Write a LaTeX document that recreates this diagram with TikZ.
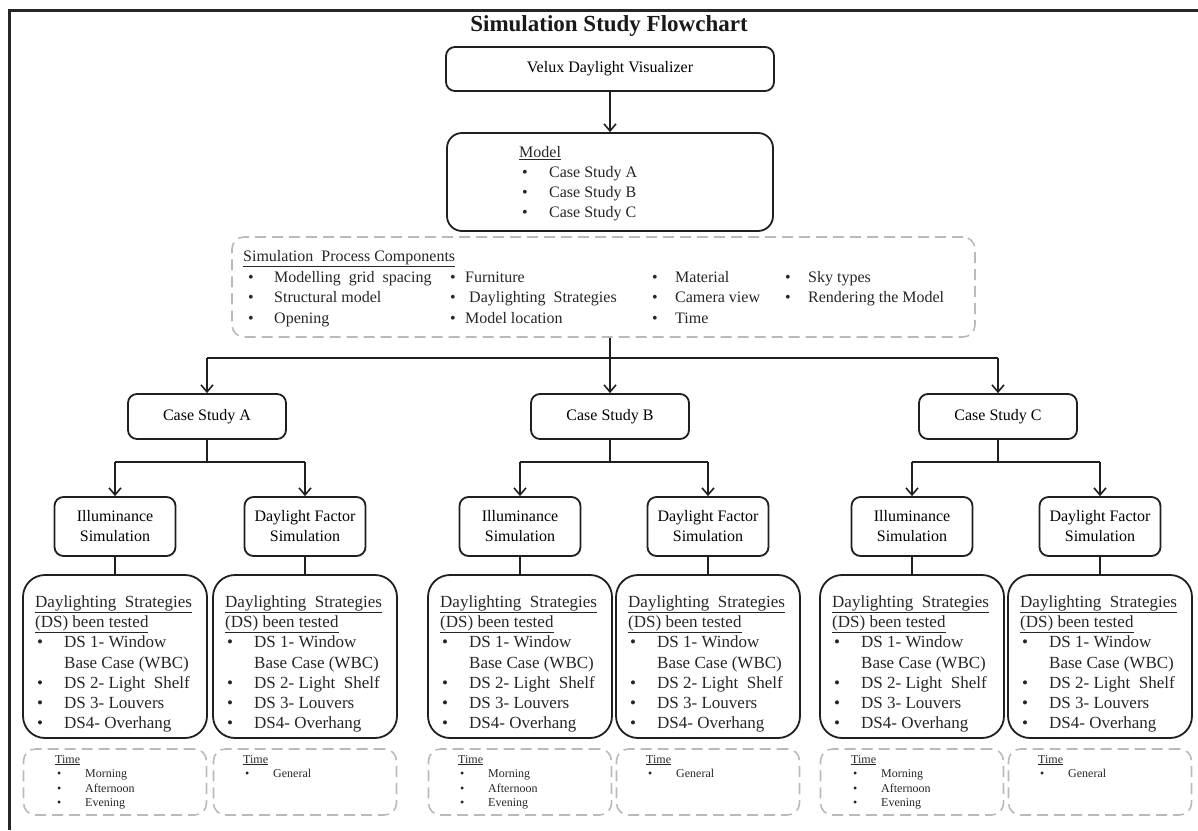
\documentclass[tikz,border=0pt]{standalone}
\usepackage{fontspec}
\setmainfont{Liberation Serif}
\usetikzlibrary{arrows.meta}

\tikzset{
 box/.style={draw=black!88, line width=1.8pt, rounded corners=9pt, fill=white, inner sep=0pt, align=center, font=\fontsize{16}{20}\selectfont},
 dsbox/.style={draw=black!88, line width=1.8pt, rounded corners=22pt, minimum width=184pt, minimum height=163pt, inner sep=0pt},
 dashbox/.style={draw=black!27, line width=1.6pt, dash pattern=on 11pt off 6pt, rounded corners=12pt, inner sep=0pt},
 conn/.style={line width=1.8pt, draw=black!88},
 arr/.style={conn, -{Straight Barb[length=7pt,width=12pt,line width=1.6pt]}},
 lbl/.style={inner sep=0pt, anchor=base west, yshift=-5.5pt, font=\fontsize{16}{20}\selectfont, text=black!85},
 dst/.style={inner sep=0pt, anchor=base west, yshift=-6pt, font=\fontsize{17}{20}\selectfont, text=black!85},
 tt/.style={inner sep=0pt, anchor=base west, yshift=-4pt, font=\fontsize{12}{14}\selectfont, text=black!85},
}

\newcommand\dslist[2]{%
 \node[dst] (#1h1) at (#2+12,601) {\underline{Daylighting\ \ Strategies}};
 \node[dst] (#1h2) at (#2+12,621) {\underline{(DS) been tested}};
 \node[dst] (#1b1) at (#2+14,641) {\textbullet};
 \node[dst] (#1t1) at (#2+41,641) {DS 1- Window};
 \node[dst] (#1t1b) at (#2+41,662) {Base Case (WBC)};
 \node[dst] (#1b2) at (#2+14,682) {\textbullet};
 \node[dst] (#1t2) at (#2+41,682) {DS 2- Light\ \ Shelf};
 \node[dst] (#1b3) at (#2+14,702) {\textbullet};
 \node[dst] (#1t3) at (#2+41,702) {DS 3- Louvers};
 \node[dst] (#1b4) at (#2+14,722) {\textbullet};
 \node[dst] (#1t4) at (#2+41,722) {DS4- Overhang};
}
\newcommand\timethree[2]{%
 \node[tt] (#1h) at (#2+31,759) {\underline{Time}};
 \node[tt] (#1b1) at (#2+33,773) {\textbullet};
 \node[tt] (#1t1) at (#2+61,773) {Morning};
 \node[tt] (#1b2) at (#2+33,788) {\textbullet};
 \node[tt] (#1t2) at (#2+61,788) {Afternoon};
 \node[tt] (#1b3) at (#2+33,802) {\textbullet};
 \node[tt] (#1t3) at (#2+61,802) {Evening};
}
\newcommand\timeone[2]{%
 \node[tt] (#1h) at (#2+30,759) {\underline{Time}};
 \node[tt] (#1b1) at (#2+32,773) {\textbullet};
 \node[tt] (#1t1) at (#2+60,773) {General};
}
\newcommand\spitem[5]{%
 \node[lbl] (#1b) at (#2,#4) {\textbullet};
 \node[lbl] (#1t) at (#3,#4) {#5};
}

\begin{document}
\begin{tikzpicture}[x=1pt,y=-1pt]
\useasboundingbox (0,0) rectangle (1198,830);
% frame
\draw[line width=3pt, black!85] (9,830) -- (9,10) -- (1198,10);

\node[font=\bfseries\fontsize{23}{26}\selectfont, text=black!90] (title) at (609,26) {Simulation Study Flowchart};

\node[box, minimum width=328pt, minimum height=44pt] (velux) at (610,69) {Velux Daylight Visualizer};
\node[box, rounded corners=15pt, minimum width=326pt, minimum height=98pt] (model) at (610,182) {};
\node[lbl] (modelh) at (519,152) {\underline{Model}};
\spitem{m1}{522}{549}{172}{Case Study A}
\spitem{m2}{522}{549}{192}{Case Study B}
\spitem{m3}{522}{549}{212}{Case Study C}

\draw[arr] (velux.south) -- (model.north);

% simulation process components
\node[dashbox, minimum width=743pt, minimum height=100pt] (spc) at (603.5,287) {};
\node[lbl] (spch) at (243,256) {\underline{Simulation\ \ Process Components}};
\spitem{s11}{248}{274}{277}{Modelling\ \ grid\ \ spacing}
\spitem{s12}{450}{465}{277}{Furniture}
\spitem{s13}{652}{675}{277}{Material}
\spitem{s14}{785}{808}{277}{Sky types}
\spitem{s21}{248}{274}{297}{Structural model}
\spitem{s22}{450}{465}{297}{\ Daylighting\ \ Strategies}
\spitem{s23}{652}{675}{297}{Camera view}
\spitem{s24}{785}{808}{297}{Rendering the Model}
\spitem{s31}{248}{274}{318}{Opening}
\spitem{s32}{450}{465}{318}{Model location}
\spitem{s33}{652}{675}{318}{Time}

% case studies
\foreach \n/\cx/\lx/\rx/\tl in {A/207/23/213/24, B/610/428/616/427, C/998/820/1008/820}{
  \node[box, minimum width=158pt, minimum height=45pt] (case\n) at (\cx,416.5) {Case Study \n};
  \node[box, minimum width=121pt, minimum height=59pt] (il\n) at (\lx+92,526.5) {Illuminance\\Simulation};
  \node[box, minimum width=121pt, minimum height=59pt] (df\n) at (\rx+92,526.5) {Daylight Factor\\Simulation};
  \node[dsbox] (dsl\n) at (\lx+92,656.5) {};
  \node[dsbox] (dsr\n) at (\rx+92,656.5) {};
  \node[dashbox, minimum width=183pt, minimum height=66pt] (tl\n) at (\lx+92,782) {};
  \node[dashbox, minimum width=183pt, minimum height=66pt] (tr\n) at (\rx+92,782) {};
  \coordinate (j\n) at (\cx,462);
  \draw[conn] (case\n.south) -- (j\n);
  \draw[conn] (il\n.north |- j\n) -- (df\n.north |- j\n);
  \draw[arr] (il\n.north |- j\n) -- (il\n.north);
  \draw[arr] (df\n.north |- j\n) -- (df\n.north);
  \draw[conn] (il\n.south) -- (dsl\n.north);
  \draw[conn] (df\n.south) -- (dsr\n.north);
  \dslist{dsl\n}{\lx}
  \dslist{dsr\n}{\rx}
  \timethree{tl\n}{\tl}
  \timeone{tr\n}{\rx}
}

\coordinate (hy) at (0,358);
\draw[arr] (caseB.north |- spc.south) -- (caseB.north);
\draw[conn] (caseA.north |- hy) -- (caseC.north |- hy);
\draw[arr] (caseA.north |- hy) -- (caseA.north);
\draw[arr] (caseC.north |- hy) -- (caseC.north);
\end{tikzpicture}
\end{document}
